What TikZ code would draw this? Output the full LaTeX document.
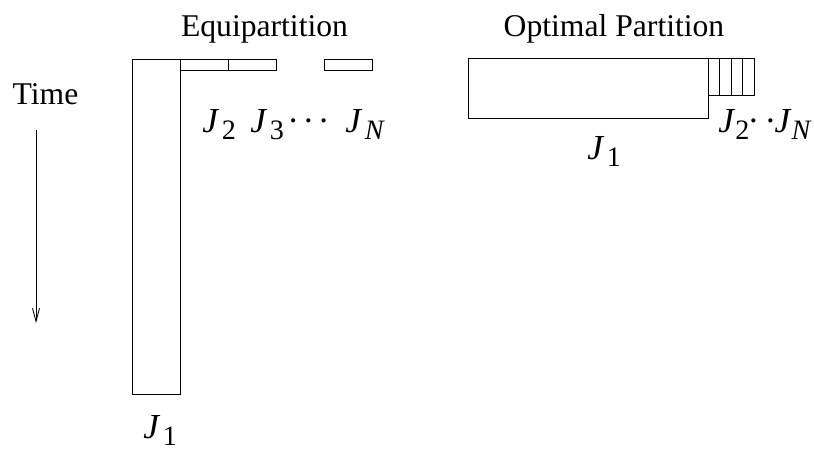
\documentclass[tikz,border=0pt]{standalone}
\usepackage{fontspec}
\setmainfont{Liberation Serif}
\usetikzlibrary{arrows.meta,positioning}
\newcommand{\jbig}{{\fontsize{20}{24}\selectfont\textit{J}}}
\newcommand{\jlab}[1]{\jbig\hspace{1.5pt}\raisebox{-3.5pt}{#1}}
\newcommand{\jdot}{{\fontsize{20}{24}\selectfont\textperiodcentered}}

\begin{document}
\begin{tikzpicture}[
  title/.style={anchor=base, inner sep=0pt, font=\fontsize{18}{22}\selectfont},
  lbl/.style={anchor=base west, inner sep=0pt, font=\fontsize{16}{19}\selectfont},
  job/.style={draw=black, line width=0.5pt}
]
\useasboundingbox (0,0) rectangle (16.28,8.98);

% --- Titulos ---
\node[title] (equi) at (5.29,8.24) {Equipartition};
\node[title] (opt) at (12.28,8.24) {Optimal Partition};
\node[title] (time) at (0.91,6.88) {Time};

% --- Eje del tiempo ---
\coordinate (t0) at (0.72,6.38);
\coordinate (t1) at (0.72,2.52);
\draw[-{Straight Barb[length=2.6mm,width=1.4mm]}, line width=0.5pt] (t0) -- (t1);

% --- Equiparticion ---
\draw[job] (2.64,1.10) rectangle (3.60,7.80);
\draw[job] (3.60,7.58) rectangle (4.56,7.80);
\draw[job] (4.56,7.58) rectangle (5.52,7.80);
\draw[job] (6.48,7.58) rectangle (7.44,7.80);
\node[lbl] (ja2) at (4.04,6.32) {\jlab{2}};
\node[lbl] (ja3) at (5.00,6.32) {\jlab{3}};
\node[lbl] (jadots) at (5.74,6.32) {\jdot\hspace{2pt}\jdot\hspace{2pt}\jdot};
\node[lbl] (jaN) at (6.90,6.32) {\jlab{\textit{N}}};
\node[lbl] (ja1) at (2.86,0.2) {\jlab{1}};

% --- Particion optima ---
\draw[job] (9.36,6.62) rectangle (14.16,7.82);
\draw[job] (14.16,7.08) rectangle (15.08,7.82);
\foreach \x in {14.39,14.62,14.85}
  \draw[job] (\x,7.08) -- (\x,7.82);
\node[lbl] (jb2) at (14.36,6.32) {\jbig\raisebox{-3.5pt}{2}\hspace{-1pt}\jdot\hspace{3pt}\jdot\hspace{-1pt}\jbig\raisebox{-3.5pt}{\textit{N}}};
\node[lbl] (jb1) at (11.74,5.78) {\jlab{1}};

\end{tikzpicture}
\end{document}
